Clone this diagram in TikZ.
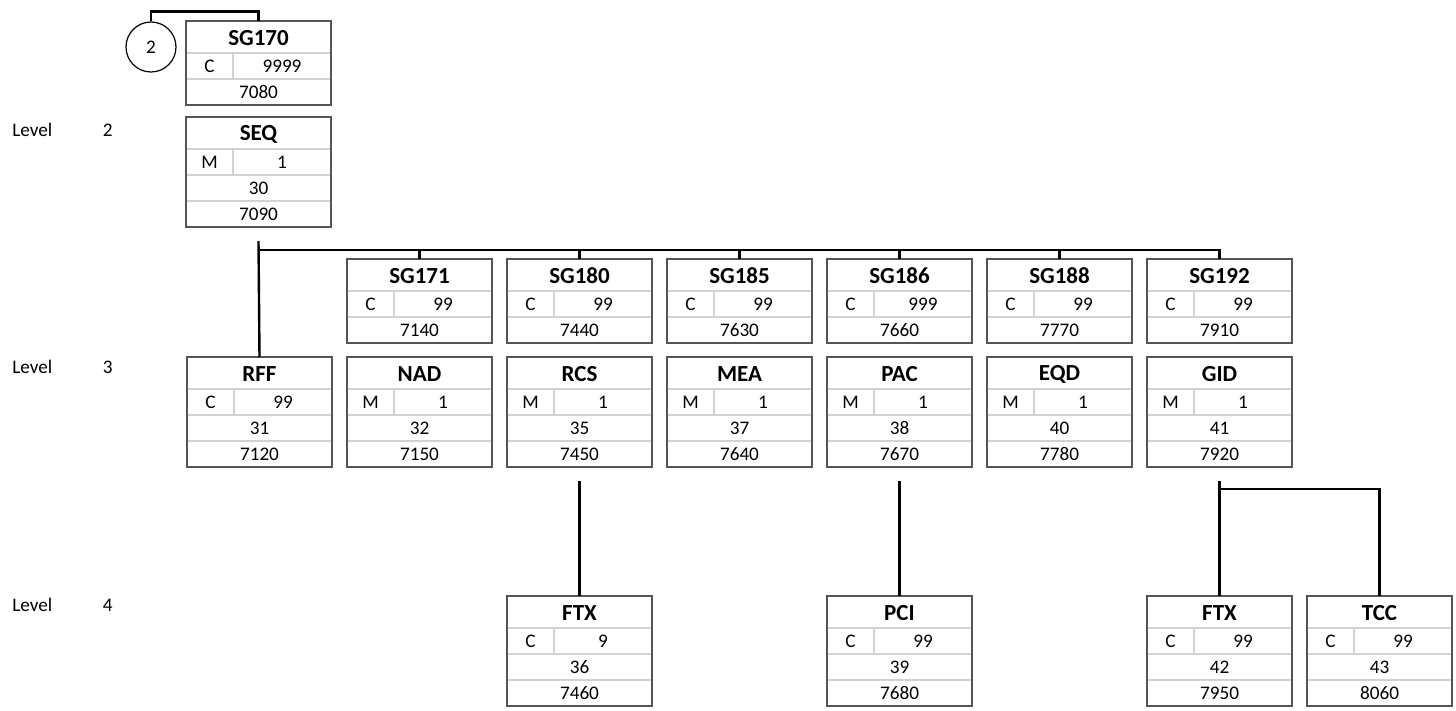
\documentclass[tikz,border=0pt]{standalone}
\usepackage{fontspec}
\setmainfont{Carlito}
\usepackage{tikz}
\usetikzlibrary{positioning,calc}
\definecolor{Frame}{HTML}{555555}
\definecolor{Rule}{HTML}{D2D2D2}
\tikzset{
  boxarea/.style={inner sep=0pt,outer sep=0pt,minimum width=72.5pt,anchor=north west},
  frame/.style={draw=Frame,line width=1.1pt},
  rowline/.style={draw=Rule,line width=0.8pt},
  titletext/.style={font=\fontsize{11.5}{13}\selectfont\bfseries,inner sep=0pt},
  celltext/.style={font=\fontsize{9.6}{11}\selectfont,inner sep=0pt},
  leveltext/.style={font=\fontsize{9.6}{11}\selectfont,inner sep=0pt},
  link/.style={draw=black,line width=1.2pt},
  loopmark/.style={draw=black,circle,line width=0.6pt,minimum size=25pt,inner sep=0pt,
    font=\fontsize{9.6}{11}\selectfont}
}
% group box: name, x, y, title, status, repeat, number
\newcommand{\grpbox}[7]{%
  \node[boxarea,minimum height=42pt] (#1) at (#2,#3) {};
  \draw[rowline] ([yshift=-16pt]#1.north west) -- ([yshift=-16pt]#1.north east)
    ([yshift=-29pt]#1.north west) -- ([yshift=-29pt]#1.north east)
    ([xshift=23.5pt,yshift=-16pt]#1.north west) -- ++(0,-13pt);
  \draw[frame] (#1.north west) rectangle (#1.south east);
  \node[titletext] (#1-title) at ([yshift=-8.5pt]#1.north) {#4};
  \node[celltext] (#1-st) at ([xshift=11.75pt,yshift=-22.5pt]#1.north west) {#5};
  \node[celltext] (#1-rep) at ([xshift=48pt,yshift=-22.5pt]#1.north west) {#6};
  \node[celltext] (#1-num) at ([yshift=-35.5pt]#1.north) {#7};
}
% segment box: name, x, y, title, status, repeat, position, number
\newcommand{\segbox}[8]{%
  \node[boxarea,minimum height=55pt] (#1) at (#2,#3) {};
  \draw[rowline] ([yshift=-16pt]#1.north west) -- ([yshift=-16pt]#1.north east)
    ([yshift=-29pt]#1.north west) -- ([yshift=-29pt]#1.north east)
    ([yshift=-42pt]#1.north west) -- ([yshift=-42pt]#1.north east)
    ([xshift=23.5pt,yshift=-16pt]#1.north west) -- ++(0,-13pt);
  \draw[frame] (#1.north west) rectangle (#1.south east);
  \node[titletext] (#1-title) at ([yshift=-8.5pt]#1.north) {#4};
  \node[celltext] (#1-st) at ([xshift=11.75pt,yshift=-22.5pt]#1.north west) {#5};
  \node[celltext] (#1-rep) at ([xshift=48pt,yshift=-22.5pt]#1.north west) {#6};
  \node[celltext] (#1-pos) at ([yshift=-35.5pt]#1.north) {#7};
  \node[celltext] (#1-num) at ([yshift=-48.5pt]#1.north) {#8};
}

\begin{document}
\begin{tikzpicture}[x=0.5pt,y=-0.5pt]
  \useasboundingbox (0,0) rectangle (1456,711);
  % level captions
  \node[leveltext,anchor=west] (lv2) at (12,130) {Level};
  \node[leveltext,anchor=east] (lv2n) at (113,130) {2};
  \node[leveltext,anchor=west] (lv3) at (12,367) {Level};
  \node[leveltext,anchor=east] (lv3n) at (113,367) {3};
  \node[leveltext,anchor=west] (lv4) at (12,605) {Level};
  \node[leveltext,anchor=east] (lv4n) at (113,605) {4};
  % level 2
  \grpbox{sg170}{186}{21}{SG170}{C}{9999}{7080}
  \segbox{seq}{186}{117}{SEQ}{M}{1}{30}{7090}
  % level 3
  \grpbox{sg171}{347}{259}{SG171}{C}{99}{7140}
  \grpbox{sg180}{507}{259}{SG180}{C}{99}{7440}
  \grpbox{sg185}{667}{259}{SG185}{C}{99}{7630}
  \grpbox{sg186}{827}{259}{SG186}{C}{999}{7660}
  \grpbox{sg188}{987}{259}{SG188}{C}{99}{7770}
  \grpbox{sg192}{1147}{259}{SG192}{C}{99}{7910}
  \segbox{rff}{187}{357}{RFF}{C}{99}{31}{7120}
  \segbox{nad}{347}{357}{NAD}{M}{1}{32}{7150}
  \segbox{rcs}{507}{357}{RCS}{M}{1}{35}{7450}
  \segbox{mea}{667}{357}{MEA}{M}{1}{37}{7640}
  \segbox{pac}{827}{357}{PAC}{M}{1}{38}{7670}
  \segbox{eqd}{987}{357}{EQD}{M}{1}{40}{7780}
  \segbox{gid}{1147}{357}{GID}{M}{1}{41}{7920}
  % level 4
  \segbox{ftxa}{507}{596}{FTX}{C}{9}{36}{7460}
  \segbox{pci}{827}{596}{PCI}{C}{99}{39}{7680}
  \segbox{ftxb}{1147}{596}{FTX}{C}{99}{42}{7950}
  \segbox{tcc}{1307}{596}{TCC}{C}{99}{43}{8060}
  % connectors
  \node[loopmark] (loop2) at (151,47) {2};
  \draw[link] (loop2.north) -- ++(0,-10) -| (sg170.north);
  \coordinate (seqtap) at ([yshift=-7pt]seq.south);
  \coordinate (seqbus) at ([yshift=-11.5pt]seq.south);
  \draw[link] (seqtap) -- (rff.north);
  \foreach \g in {sg171,sg180,sg185,sg186,sg188,sg192}
    \draw[link] (seqbus) -| (\g.north);
  \coordinate (rcstap) at ([yshift=-7pt]rcs.south);
  \coordinate (pactap) at ([yshift=-7pt]pac.south);
  \coordinate (gidtap) at ([yshift=-7pt]gid.south);
  \coordinate (gidbus) at ([yshift=-11pt]gid.south);
  \draw[link] (rcstap) -- (ftxa.north);
  \draw[link] (pactap) -- (pci.north);
  \draw[link] (gidtap) -- (ftxb.north);
  \draw[link] (gidbus) -| (tcc.north);
\end{tikzpicture}
\end{document}
